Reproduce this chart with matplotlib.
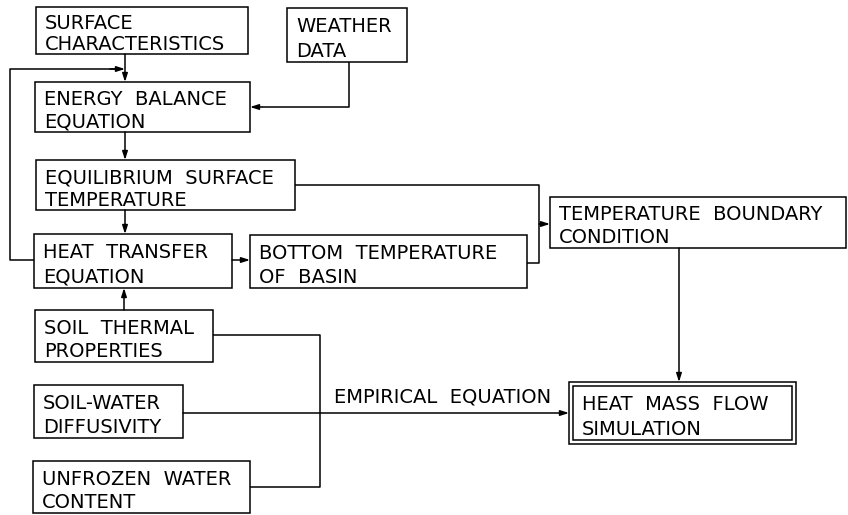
import matplotlib
matplotlib.use("Agg")
import matplotlib.pyplot as plt
from matplotlib.patches import Rectangle

# ---- content ----
labels = [
    "SURFACE\nCHARACTERISTICS",
    "WEATHER\nDATA",
    "ENERGY  BALANCE\nEQUATION",
    "EQUILIBRIUM  SURFACE\nTEMPERATURE",
    "HEAT  TRANSFER\nEQUATION",
    "BOTTOM  TEMPERATURE\nOF  BASIN",
    "TEMPERATURE  BOUNDARY\nCONDITION",
    "SOIL  THERMAL\nPROPERTIES",
    "SOIL-WATER\nDIFFUSIVITY",
    "UNFROZEN  WATER\nCONTENT",
    "HEAT  MASS  FLOW\nSIMULATION",
]
edge_label = "EMPIRICAL  EQUATION"

# ---- layout (pixels: x0, y0, x1, y1) ----
boxes = [
    (36, 7, 248, 54),
    (287, 8, 407, 62),
    (35, 82, 250, 132),
    (36, 160, 295, 210),
    (34, 234, 232, 288),
    (250, 235, 527, 288),
    (550, 197, 846, 248),
    (35, 310, 213, 362),
    (34, 385, 183, 438),
    (33, 461, 250, 513),
    (573, 386, 792, 440),
]

W, H = 848, 515
fig = plt.figure(figsize=(W / 100, H / 100), dpi=100)
ax = fig.add_axes([0, 0, 1, 1])
ax.set_xlim(0, W)
ax.set_ylim(H, 0)
ax.axis("off")

LW = 1.1
FS = 14

for lab, (x0, y0, x1, y1) in zip(labels, boxes):
    ax.add_patch(Rectangle((x0, y0), x1 - x0, y1 - y0, fill=False, lw=LW, ec="black"))
    l1, l2 = lab.split("\n")
    ax.text(x0 + 9, y0 + (y1 - y0) * 0.35, l1, fontsize=FS, va="center", ha="left",
            family="DejaVu Sans")
    ax.text(x0 + 9, y0 + (y1 - y0) * 0.80, l2, fontsize=FS, va="center", ha="left",
            family="DejaVu Sans")

# outer frame of final box (double border)
ax.add_patch(Rectangle((569, 382), 796 - 569, 444 - 382, fill=False, lw=LW, ec="black"))


def line(xs, ys):
    ax.plot(xs, ys, color="black", lw=LW, solid_capstyle="butt")


def arrow(x0, y0, x1, y1):
    ax.annotate("", xy=(x1, y1), xytext=(x0, y0),
                arrowprops=dict(arrowstyle="-|>,head_length=0.5,head_width=0.16",
                                color="black", lw=LW, shrinkA=0, shrinkB=0))

# surface -> energy
arrow(125, 54, 125, 82)
# feedback loop from heat transfer to energy
line([34, 10, 10, 118], [260, 260, 69, 69])
arrow(110, 69, 125, 69)
# weather -> energy
line([349, 349, 262], [62, 107, 107])
arrow(262, 107, 250, 107)
# energy -> equilibrium
arrow(125, 132, 125, 160)
# equilibrium -> heat transfer
arrow(125, 210, 125, 234)
# heat transfer -> bottom
arrow(232, 260, 250, 260)
# equilibrium/bottom -> boundary
line([295, 539, 539, 527], [185, 185, 263, 263])
arrow(539, 224, 550, 224)
# boundary -> simulation
arrow(679, 248, 679, 382)
# soil thermal -> heat transfer
arrow(124, 310, 124, 288)
# soil thermal / unfrozen connector
line([213, 320, 320, 250], [335, 335, 487, 487])
# soil water -> simulation
arrow(183, 413, 569, 413)
ax.text(443, 397, edge_label, fontsize=FS, ha="center", va="center", family="DejaVu Sans")

fig.savefig("out.png", dpi=100, facecolor="white")
